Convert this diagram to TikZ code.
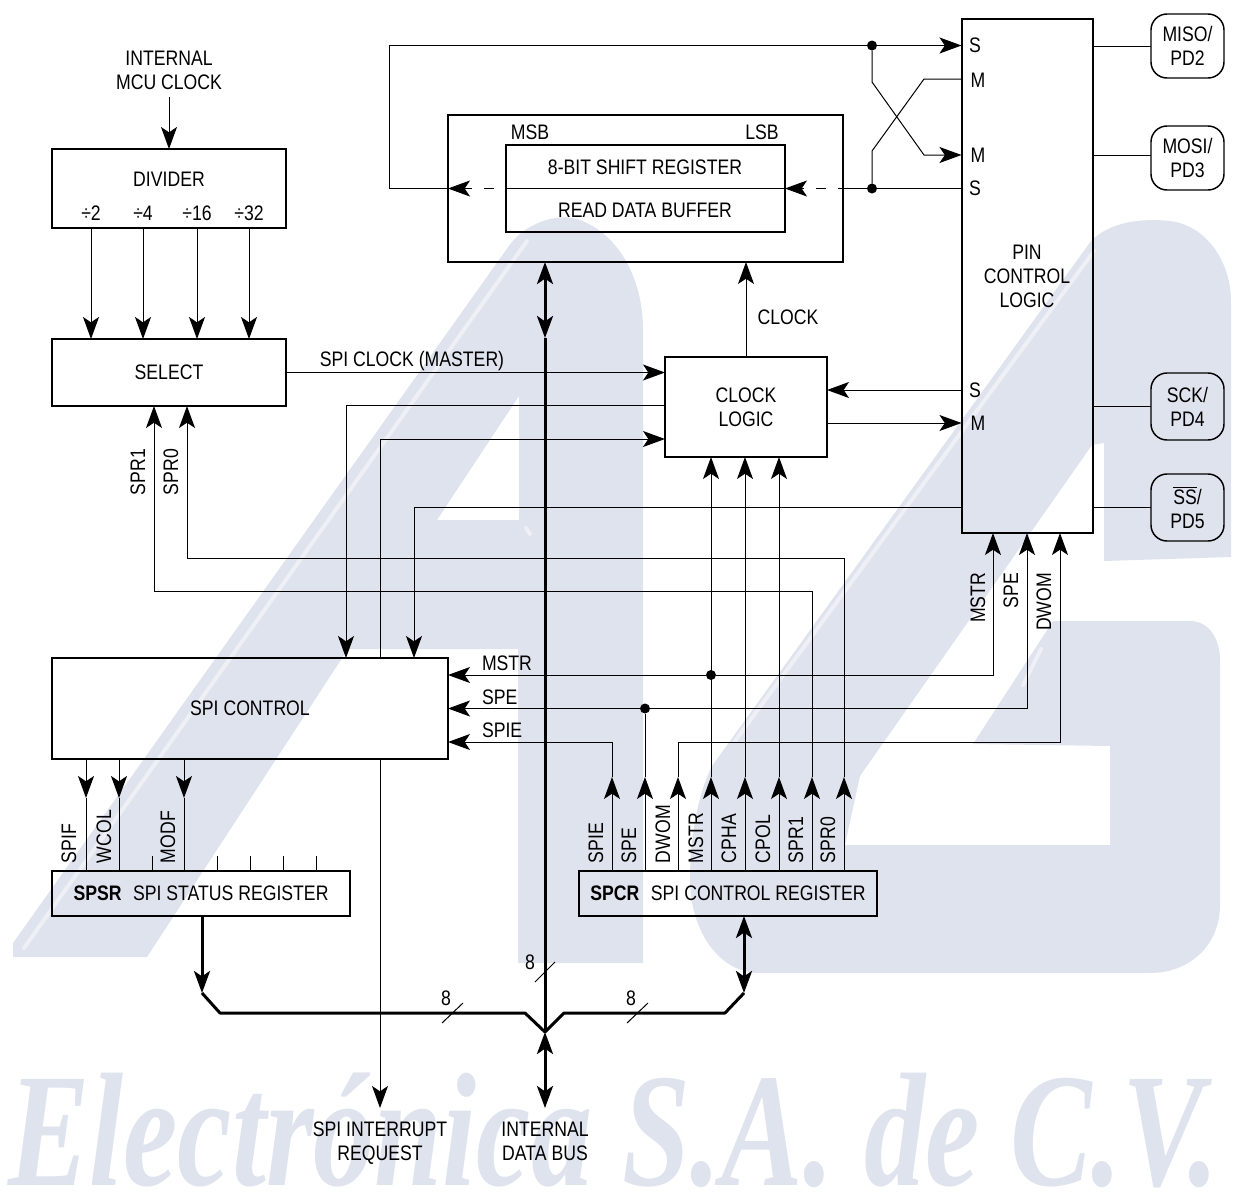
\documentclass[tikz,border=0pt]{standalone}
\usepackage{fontspec}
\setmainfont[FakeStretch=0.84]{Liberation Sans}
\newfontfamily\wmfont{Liberation Serif}
\usetikzlibrary{arrows.meta}

\tikzset{every picture/.style={line width=0.75pt}}
\tikzset{
every node/.style={inner sep=0pt, outer sep=0pt, font=\fontsize{15.75}{18}\selectfont, align=center},
>={Stealth[length=16.5pt,width=12pt,inset=4pt]},
box/.style={draw, line width=1.5pt},
pinbox/.style={draw, line width=1.1pt, rounded corners=12pt, minimum width=54.75pt, minimum height=48pt},
bus/.style={line width=2.25pt},
dot/.style={circle, fill, minimum size=7.5pt},
wmark/.style={fill={rgb, 255:red, 223; green, 227; blue, 238 }},
wmarkline/.style={draw={rgb, 255:red, 238; green, 240; blue, 246 }, line width=3pt, line cap=round}
}

\begin{document}
\begin{tikzpicture}[x=0.75pt,y=0.75pt,yscale=-1,xscale=1]
\useasboundingbox (0,0) rectangle (1233,1204);

%Watermark
\path [wmark, even odd rule] (13,957) -- (13,943) -- (511,243) .. controls (528,222) and (560,212) .. (580,220) .. controls (620,235) and (643,280) .. (643,330) -- (643,963) -- (518,963) -- (518,649) -- (348,649) -- (147,957) -- cycle (519,396) -- (437,520) -- (519,520) -- cycle ;
\path [wmark] (1091,241) .. controls (1110,222) and (1140,218) .. (1170,221) .. controls (1205,225) and (1231,260) .. (1231,302) -- (1231,557) -- (1104,561) -- (1104,443) -- (1092,445) -- (860,776) -- (845,845) -- (1110,845) -- (1110,746) -- (973,744) -- (1053,621) -- (1190,621) .. controls (1210,621) and (1220,640) .. (1220,660) -- (1220,905) .. controls (1220,945) and (1190,973) .. (1150,973) -- (760,973) .. controls (715,973) and (690,925) .. (690,880) .. controls (690,830) and (700,790) .. (712,766) -- cycle ;
\draw [wmarkline] (24,948) -- (527,241) ;
\draw [wmarkline] (1094,251) -- (735,741) ;
\draw [wmarkline] (1041,649) -- (1023,685) ;
\draw [wmarkline] (526,528) -- (530,534) ;
\node (wmtext) [anchor=base west, color={rgb, 255:red, 223; green, 227; blue, 238 }, font=\wmfont\bfseries\itshape\fontsize{121.5}{121.5}\selectfont] at (8,1185) {\scalebox{0.755}[1]{Electrónica S.A. de C.V.}};

%Boxes
\node (divider) [box, minimum width=175.5pt, minimum height=59.25pt] at (169,188.5) {};
\node (select) [box, minimum width=175.5pt, minimum height=50.25pt] at (169,372.5) {SELECT};
\node (shiftbox) [box, minimum width=296.25pt, minimum height=110.25pt] at (645.5,188.5) {};
\node (shiftreg) [box, minimum width=209.25pt, minimum height=65.25pt] at (645.5,188.5) {};
\node (clocklogic) [box, minimum width=121.5pt, minimum height=75pt] at (746,407) {CLOCK\\LOGIC};
\node (pinlogic) [box, minimum width=98.25pt, minimum height=385.5pt] at (1027,276) {PIN\\CONTROL\\LOGIC};
\node (spicontrol) [box, minimum width=297pt, minimum height=75.75pt] at (250,708.5) {SPI CONTROL};
\node (spsr) [box, minimum width=223.5pt, minimum height=33.75pt] at (201,893.5) {\textbf{SPSR}\hspace{0.55em}SPI STATUS REGISTER};
\node (spcr) [box, minimum width=223.5pt, minimum height=33.75pt] at (728,893.5) {\textbf{SPCR}\hspace{0.55em}SPI CONTROL REGISTER};
\node (misopin) [pinbox] at (1187.5,46) {MISO/\\PD2};
\node (mosipin) [pinbox] at (1187.5,158) {MOSI/\\PD3};
\node (sckpin) [pinbox, minimum height=50.25pt] at (1187.5,406.5) {SCK/\\PD4};
\node (sspin) [pinbox, minimum height=50.25pt] at (1187.5,507.5) {$\overline{\mbox{SS}}$/\\PD5};

%Junctions
\node (dotmiso) [dot] at (872,45.5) {};
\node (dotmosi) [dot] at (872,188.5) {};
\node (dotmstr) [dot] at (711,675) {};
\node (dotspe) [dot] at (645,708.5) {};
\coordinate (clockin) at (169,97);
\coordinate (busknee) at (545,338);
\coordinate (busapex) at (545,1032);
\coordinate (busend) at (545,1108);
\coordinate (irqend) at (380,1108);
\coordinate (spsrbus) at (202,993);
\coordinate (spcrbus) at (744,993);

%Clock divider to select
\draw [->] (clockin) -- (169,0 |- divider.north) ;
\draw [->] (91,0 |- divider.south) -- (91,0 |- select.north) ;
\draw [->] (143,0 |- divider.south) -- (143,0 |- select.north) ;
\draw [->] (197,0 |- divider.south) -- (197,0 |- select.north) ;
\draw [->] (249,0 |- divider.south) -- (249,0 |- select.north) ;
\draw [->] (select.east) -- (clocklogic.west |- select.east) ;

%Shift register and pin crossover
\draw (shiftreg.west) -- (shiftreg.east) ;
\draw [->, dash pattern=on 7.5pt off 9pt, dash phase=7.5pt] (shiftreg.west) -- (shiftbox.west) ;
\draw [->, dash pattern=on 7.5pt off 9pt, dash phase=3.75pt] (shiftbox.east) -- (shiftreg.east) ;
\draw (shiftbox.west) -- (389,188.5) -- (389,45.5) -- (dotmiso) ;
\draw [->] (dotmiso) -- (pinlogic.west |- dotmiso) ;
\draw (dotmosi) -- (shiftbox.east) ;
\draw (dotmosi) -- (pinlogic.west |- dotmosi) ;
\draw [->] (dotmiso) -- (872,82) -- (924,155) -- (pinlogic.west |- 0,155) ;
\draw (pinlogic.west |- 0,79) -- (924,79) -- (872,151) -- (dotmosi) ;
\draw (pinlogic.east |- misopin.west) -- (misopin.west) ;
\draw (pinlogic.east |- 0,155) -- (mosipin.west |- 0,155) ;
\draw (pinlogic.east |- sckpin.west) -- (sckpin.west) ;
\draw (pinlogic.east |- sspin.west) -- (sspin.west) ;

%Clock logic
\draw [->] (clocklogic.north) -- (clocklogic.north |- shiftbox.south) ;
\draw [->] (pinlogic.west |- 0,390) -- (clocklogic.east |- 0,390) ;
\draw [->] (clocklogic.east |- 0,423) -- (pinlogic.west |- 0,423) ;
\draw [->] (clocklogic.west |- 0,405) -- (346,405) -- (346,0 |- spicontrol.north) ;
\draw [->] (380,0 |- spicontrol.north) -- (380,439) -- (clocklogic.west |- 0,439) ;
\draw [->] (pinlogic.west |- 0,507) -- (414,507) -- (414,0 |- spicontrol.north) ;
\draw [->] (380,0 |- spicontrol.south) -- (irqend) ;

%SPCR bits
\draw [->] (612,0 |- spcr.north) -- (612,777) ;
\draw [->] (612,777) -- (612,742) -- (spicontrol.east |- 0,742) ;
\draw [->] (645,0 |- spcr.north) -- (645,777) ;
\draw (645,777) -- (dotspe) ;
\draw [->] (678,0 |- spcr.north) -- (678,777) ;
\draw [->] (678,777) -- (678,742) -- (1060,742) -- (1060,0 |- pinlogic.south) ;
\draw [->] (711,0 |- spcr.north) -- (711,777) ;
\draw [->] (711,777) -- (711,0 |- clocklogic.south) ;
\draw [->] (745,0 |- spcr.north) -- (745,777) ;
\draw [->] (745,777) -- (745,0 |- clocklogic.south) ;
\draw [->] (779,0 |- spcr.north) -- (779,777) ;
\draw [->] (779,777) -- (779,0 |- clocklogic.south) ;
\draw [->] (812,0 |- spcr.north) -- (812,777) ;
\draw [->] (812,777) -- (812,591) -- (154,591) -- (154,0 |- select.south) ;
\draw [->] (844,0 |- spcr.north) -- (844,777) ;
\draw [->] (844,777) -- (844,558) -- (187,558) -- (187,0 |- select.south) ;
\draw [->] (dotmstr) -- (spicontrol.east |- dotmstr) ;
\draw [->] (dotmstr) -- (993,675) -- (993,0 |- pinlogic.south) ;
\draw [->] (dotspe) -- (spicontrol.east |- dotspe) ;
\draw [->] (dotspe) -- (1027,708.5) -- (1027,0 |- pinlogic.south) ;

%SPSR bits
\draw [->] (86,0 |- spicontrol.south) -- (86,798) ;
\draw (86,798) -- (86,0 |- spsr.north) ;
\draw [->] (119,0 |- spicontrol.south) -- (119,798) ;
\draw (119,798) -- (119,0 |- spsr.north) ;
\draw [->] (184,0 |- spicontrol.south) -- (184,798) ;
\draw (184,798) -- (184,0 |- spsr.north) ;
\draw (152,0 |- spsr.north) -- (152,856) ;
\draw (217,0 |- spsr.north) -- (217,856) ;
\draw (250,0 |- spsr.north) -- (250,856) ;
\draw (283,0 |- spsr.north) -- (283,856) ;
\draw (316,0 |- spsr.north) -- (316,856) ;

%Data bus
\draw [bus, <->] (545,0 |- shiftbox.south) -- (busknee) ;
\draw [bus] (busknee) -- (busapex) ;
\draw [bus, <->] (busapex) -- (busend) ;
\draw [bus, ->] (spsrbus |- spsr.south) -- (spsrbus) ;
\draw [bus, <->] (spcrbus |- spcr.south) -- (spcrbus) ;
\draw [bus, line join=round] (spsrbus) -- (220,1013) -- (525,1013) -- (busapex) -- (564,1013) -- (725,1013) -- (spcrbus) ;
\draw (535,982) -- (555,962) ;
\draw (442,1023) -- (463,1003) ;
\draw (627,1023) -- (648,1003) ;

%Text Nodes
\node (mcuclock) at (169,70) {INTERNAL\\MCU CLOCK};
\node (dividertext) at (169,179) {DIVIDER};
\node (divtwo) at (91,213) {÷2};
\node (divfour) at (143,213) {÷4};
\node (divsixteen) at (197,213) {÷16};
\node (divthirtytwo) at (249,213) {÷32};
\node (msbtext) at (530,132) {MSB};
\node (lsbtext) at (762,132) {LSB};
\node (shifttext) at (645,167) {8-BIT SHIFT REGISTER};
\node (buffertext) at (645,210) {READ DATA BUFFER};
\node (spiclocktext) at (412,361) {SPI CLOCK (MASTER)};
\node (clocktext) at (788,317) {CLOCK};
\node (pinstop) at (975,45) {S};
\node (pinmtop) at (978,80) {M};
\node (pinmlow) at (978,155) {M};
\node (pinslow) at (975,188) {S};
\node (pinsclk) at (975,390) {S};
\node (pinmclk) at (978,423) {M};
\node (mstrtext) [anchor=west] at (482,663) {MSTR};
\node (spetext) [anchor=west] at (482,697) {SPE};
\node (spietext) [anchor=west] at (482,730) {SPIE};
\node (sproneleft) [rotate=90, anchor=east] at (138,449) {SPR1};
\node (sprzeroleft) [rotate=90, anchor=east] at (171,449) {SPR0};
\node (mstrup) [rotate=90, anchor=east] at (978,573) {MSTR};
\node (speup) [rotate=90, anchor=east] at (1011,573) {SPE};
\node (dwomup) [rotate=90, anchor=east] at (1044,573) {DWOM};
\node (spifbit) [rotate=90, anchor=west] at (69,863) {SPIF};
\node (wcolbit) [rotate=90, anchor=west] at (104,863) {WCOL};
\node (modfbit) [rotate=90, anchor=west] at (168,863) {MODF};
\node (spiebit) [rotate=90, anchor=west] at (596,863) {SPIE};
\node (spebit) [rotate=90, anchor=west] at (629,863) {SPE};
\node (dwombit) [rotate=90, anchor=west] at (663,863) {DWOM};
\node (mstrbit) [rotate=90, anchor=west] at (696,863) {MSTR};
\node (cphabit) [rotate=90, anchor=west] at (729,863) {CPHA};
\node (cpolbit) [rotate=90, anchor=west] at (763,863) {CPOL};
\node (spronebit) [rotate=90, anchor=west] at (796,863) {SPR1};
\node (sprzerobit) [rotate=90, anchor=west] at (828,863) {SPR0};
\node (eightbus) at (530,962) {8};
\node (eightsr) at (446,998) {8};
\node (eightcr) at (631,998) {8};
\node (irqtext) at (380,1143) {SPI INTERRUPT\\REQUEST};
\node (bustext) at (545,1141) {INTERNAL\\DATA BUS};

\end{tikzpicture}
\end{document}
